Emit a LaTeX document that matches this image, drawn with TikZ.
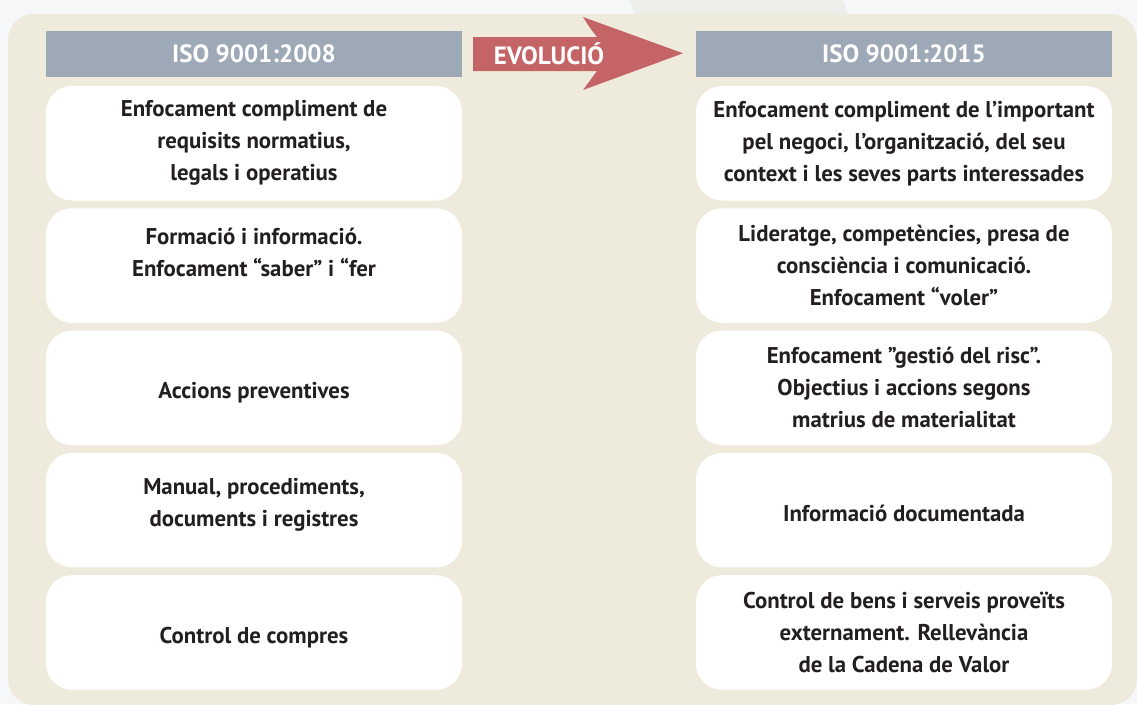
\documentclass[tikz,border=0pt]{standalone}
\usepackage{fontspec}
\setmainfont{PT Sans}
\definecolor{outerbg}{HTML}{F5F7F9}
\definecolor{topshade}{HTML}{EEEFEA}
\definecolor{beige}{HTML}{EFEBDC}
\definecolor{hdr}{HTML}{9EA9B7}
\definecolor{arrowred}{HTML}{C46466}
\definecolor{ink}{HTML}{231F20}
\begin{document}
\begin{tikzpicture}[x=1pt,y=-1pt,
  hdrbox/.style={fill=hdr, minimum width=416pt, minimum height=46pt, inner sep=0pt,
    text=white, font=\fontsize{25}{30}\selectfont\bfseries},
  itembox/.style={fill=white, rounded corners=26pt, minimum width=416pt, minimum height=114.5pt, inner sep=0pt},
  itemtxt/.style={align=center, text=ink, inner sep=0pt, font=\fontsize{22.8}{32}\selectfont\bfseries},
  arrowtxt/.style={text=white, inner sep=0pt, font=\fontsize{25}{30}\selectfont\bfseries}]
\useasboundingbox (0,0) rectangle (1137,704);
\fill[outerbg] (0,0) rectangle (1137,704);
\fill[topshade] (630,0) -- (843,0) -- (848,14) -- (635,14) -- cycle;
\fill[beige, rounded corners=26pt] (8,14) rectangle (1137,705);
% headers
\node[hdrbox] (h1) at (254,54) {ISO 9001:2008};
\node[hdrbox] (h2) at (904,54) {ISO 9001:2015};
% arrow
\fill[arrowred] (473,37) -- (597,37) .. controls (590,28) .. (583,17) -- (683,53.3)
  -- (583,90) .. controls (590,80) .. (597,71) -- (473,71) -- cycle;
\node[arrowtxt] (evo) at (549,54) {EVOLUCIÓ};
% boxes
\foreach \i/\yy in {1/143.25,2/265.55,3/387.85,4/510.15,5/632.45}{
  \node[itembox] (l\i) at (254,\yy) {};
  \node[itembox] (r\i) at (904,\yy) {};
}
% left texts
\node[itemtxt] (lt1) at (l1) {Enfocament compliment de\\requisits normatius,\\legals i operatius};
\node[itemtxt, yshift=13pt] (lt2) at (l2) {Formació i informació.\\Enfocament “saber” i “fer};
\node[itemtxt, yshift=-5pt] (lt3) at (l3) {Accions preventives};
\node[itemtxt, yshift=5pt] (lt4) at (l4) {Manual, procediments,\\documents i registres};
\node[itemtxt, yshift=-5pt] (lt5) at (l5) {Control de compres};
% right texts
\node[itemtxt] (rt1) at (r1) {Enfocament compliment de l’important\\pel negoci, l’organització, del seu\\context i les seves parts interessades};
\node[itemtxt] (rt2) at (r2) {Lideratge, competències, presa de\\consciència i comunicació.\\Enfocament “voler”};
\node[itemtxt] (rt3) at (r3) {Enfocament ”gestió del risc”.\\Objectius i accions segons\\matrius de materialitat};
\node[itemtxt, yshift=-3pt] (rt4) at (r4) {Informació documentada};
\node[itemtxt] (rt5) at (r5) {Control de bens i serveis proveïts\\externament. Rellevància\\de la Cadena de Valor};
\end{tikzpicture}
\end{document}
